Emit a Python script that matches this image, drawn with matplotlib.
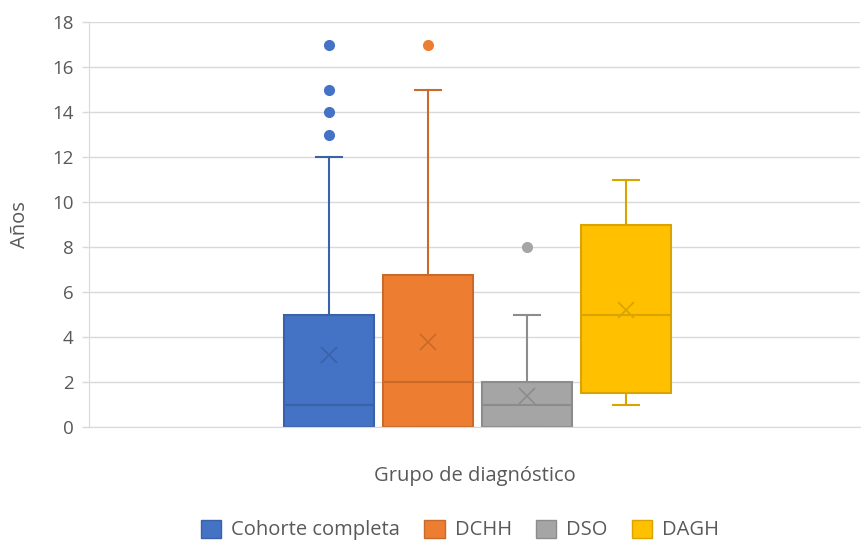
import matplotlib
matplotlib.use("Agg")
import matplotlib.pyplot as plt
from matplotlib.patches import Patch

# Box-plot summary per diagnostic group (years)
groups = ["Cohorte completa", "DCHH", "DSO", "DAGH"]
whisker_low = [0, 0, 0, 1]
q1 = [0, 0, 0, 1.5]
median = [1, 2, 1, 5]
q3 = [5, 6.75, 2, 9]
whisker_high = [12, 15, 5, 11]
mean = [3.2, 3.8, 1.4, 5.2]
outliers = [[13, 14, 15, 17], [17], [8], []]

fill_colors = ["#4472C4", "#ED7D31", "#A5A5A5", "#FFC000"]
edge_colors = ["#3A62AB", "#C9692A", "#8C8C8C", "#D9A300"]

y_ticks = [0, 2, 4, 6, 8, 10, 12, 14, 16, 18]

plt.rcParams["font.family"] = ["Open Sans", "DejaVu Sans"]

fig = plt.figure(figsize=(8.61, 5.41), dpi=100)
ax = fig.add_axes([89 / 861, 1 - 427 / 541, 771 / 861, 405 / 541])

center = 0.504
positions = [center - 0.1926, center - 0.0642, center + 0.0642, center + 0.1926]
box_w = 0.1167
cap_w = 0.034

for i, g in enumerate(groups):
    stats = [dict(med=median[i], q1=q1[i], q3=q3[i], whislo=whisker_low[i],
                  whishi=whisker_high[i], mean=mean[i], fliers=outliers[i], label=g)]
    ec = edge_colors[i]
    ax.bxp(stats, positions=[positions[i]], widths=box_w, patch_artist=True,
           showmeans=True, showfliers=True, manage_ticks=False,
           capwidths=cap_w,
           boxprops=dict(facecolor=fill_colors[i], edgecolor=ec, linewidth=1.5),
           medianprops=dict(color=ec, linewidth=1.5),
           whiskerprops=dict(color=ec, linewidth=1.5),
           capprops=dict(color=ec, linewidth=1.5),
           meanprops=dict(marker="x", markeredgecolor=ec, markersize=11,
                          markeredgewidth=1.2),
           flierprops=dict(marker="o", markerfacecolor=fill_colors[i],
                           markeredgecolor=fill_colors[i], markersize=7))

ax.set_xlim(0, 1)
ax.set_ylim(0, 18)
ax.set_yticks(y_ticks)
ax.set_xticks([])
ax.yaxis.grid(True, color="#D9D9D9", linewidth=1)
ax.set_axisbelow(True)
for s in ["top", "right"]:
    ax.spines[s].set_visible(False)
ax.spines["left"].set_color("#D9D9D9")
ax.spines["bottom"].set_color("#D9D9D9")
ax.tick_params(axis="y", colors="#D9D9D9", labelcolor="#595959", labelsize=13.5,
               length=5, width=1, pad=6)

ax.set_ylabel("Años", fontsize=14.5, color="#595959", labelpad=16)
ax.set_xlabel("Grupo de diagnóstico", fontsize=14.5, color="#595959", labelpad=28)

handles = [Patch(facecolor=fill_colors[i], edgecolor=edge_colors[i], label=g)
           for i, g in enumerate(groups)]
fig.legend(handles=handles, loc="center", bbox_to_anchor=(460 / 861, 1 - 530 / 541),
           ncol=4, frameon=False, fontsize=14.5, labelcolor="#595959",
           handlelength=1.0, handleheight=1.0, handletextpad=0.5, columnspacing=1.2)

fig.savefig("out.png", dpi=100)
